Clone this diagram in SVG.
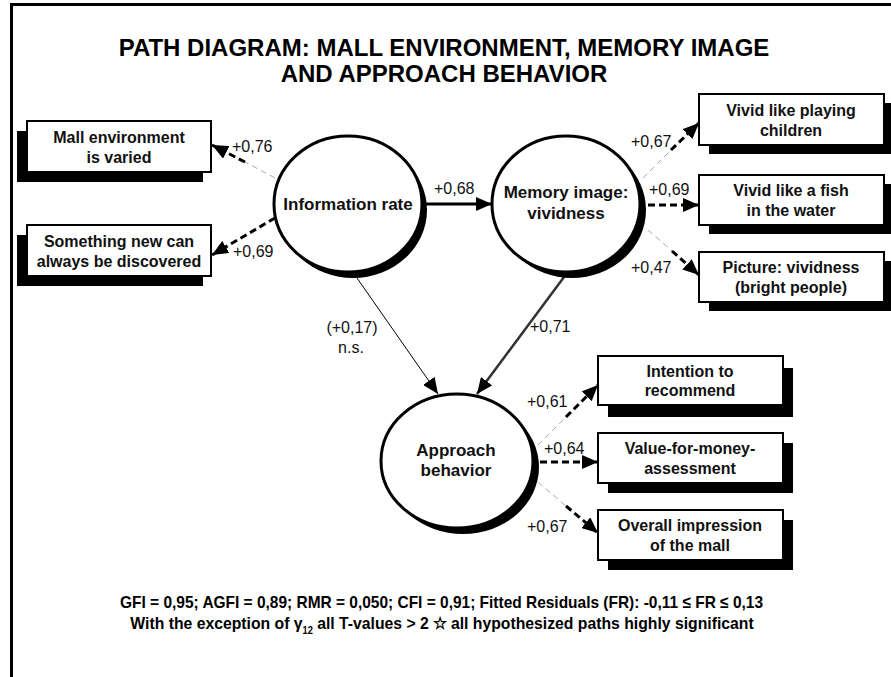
<svg xmlns="http://www.w3.org/2000/svg" width="891" height="677" viewBox="0 0 891 677">
<style>
.title{font-family:"Liberation Sans",Arial,sans-serif;font-weight:bold;font-size:24px;text-anchor:middle;fill:#000}
.node{font-family:"Liberation Sans",Arial,sans-serif;font-weight:bold;font-size:17px;text-anchor:middle;fill:#111}
.box{font-family:"Liberation Sans",Arial,sans-serif;font-weight:bold;font-size:16px;text-anchor:middle;fill:#111}
.lbl{font-family:"Liberation Sans",Arial,sans-serif;font-size:16px;fill:#111}
.foot{font-family:"Liberation Sans",Arial,sans-serif;font-weight:bold;font-size:17px;fill:#000}
.shadow{fill:#000}
.rect{fill:#fff;stroke:#000;stroke-width:2}
.circ{fill:#fff;stroke:#000;stroke-width:3}
.dg{stroke:#aaa;stroke-width:1;stroke-dasharray:6 4;fill:none}
.db{stroke:#000;stroke-width:3;stroke-dasharray:7 4;fill:none}
.solid{stroke:#000;stroke-width:3;fill:none}
</style>
<defs>
<marker id="ah" markerUnits="userSpaceOnUse" markerWidth="18" markerHeight="14" refX="16" refY="7" orient="auto">
<path d="M0,0 L16,7 L0,14 Z" fill="#000"/>
</marker>
</defs>
<rect x="0" y="0" width="891" height="677" fill="#fff"/>
<g id="frame">
<line x1="10" y1="4.5" x2="891" y2="4.5" stroke="#000" stroke-width="3"/>
<line x1="11.5" y1="3" x2="11.5" y2="677" stroke="#000" stroke-width="3"/>
</g>
<g id="title">
<text class="title" x="444" y="56">PATH DIAGRAM: MALL ENVIRONMENT, MEMORY IMAGE</text>
<text class="title" x="444" y="82">AND APPROACH BEHAVIOR</text>
</g>
<g id="connectors">
<line class="solid" x1="425" y1="204" x2="492" y2="204" marker-end="url(#ah)"/>
<line x1="357" y1="278" x2="438" y2="394" stroke="#000" stroke-width="1" marker-end="url(#ah)"/>
<line x1="567" y1="273" x2="477" y2="394" stroke="#333" stroke-width="2.5" marker-end="url(#ah)"/>
<line class="dg" x1="275" y1="178" x2="245" y2="162"/>
<line class="db" x1="245" y1="162" x2="212" y2="145" marker-end="url(#ah)"/>
<line class="db" x1="275" y1="218" x2="212" y2="255" marker-end="url(#ah)"/>
<line class="dg" x1="643" y1="178" x2="671" y2="150"/>
<line class="db" x1="671" y1="150" x2="699" y2="123" marker-end="url(#ah)"/>
<line class="db" x1="648" y1="205" x2="699" y2="205" marker-end="url(#ah)"/>
<line class="dg" x1="648" y1="230" x2="672" y2="251"/>
<line class="db" x1="672" y1="251" x2="699" y2="275" marker-end="url(#ah)"/>
<line class="dg" x1="538" y1="445" x2="566" y2="417"/>
<line class="db" x1="566" y1="417" x2="598" y2="385" marker-end="url(#ah)"/>
<line class="db" x1="540" y1="462" x2="598" y2="462" marker-end="url(#ah)"/>
<line class="dg" x1="538" y1="482" x2="566" y2="506"/>
<line class="db" x1="566" y1="506" x2="598" y2="533" marker-end="url(#ah)"/>
<text class="lbl" x="434" y="194">+0,68</text>
<text class="lbl" x="232" y="152">+0,76</text>
<text class="lbl" x="233" y="257">+0,69</text>
<text class="lbl" x="631" y="147">+0,67</text>
<text class="lbl" x="649" y="195">+0,69</text>
<text class="lbl" x="631" y="273">+0,47</text>
<text class="lbl" x="530" y="332">+0,71</text>
<text class="lbl" x="352" y="333" text-anchor="middle">(+0,17)</text>
<text class="lbl" x="351" y="353" text-anchor="middle">n.s.</text>
<text class="lbl" x="527" y="407">+0,61</text>
<text class="lbl" x="544" y="454">+0,64</text>
<text class="lbl" x="527" y="532">+0,67</text>
</g>
<g id="information-rate">
<ellipse class="shadow" cx="353" cy="210" rx="74" ry="68"/>
<ellipse class="circ" cx="348" cy="204" rx="74" ry="68"/>
<text class="node" x="348" y="210">Information rate</text>
</g>
<g id="memory-image">
<ellipse class="shadow" cx="572" cy="210" rx="74" ry="68"/>
<ellipse class="circ" cx="566" cy="204" rx="74" ry="68"/>
<text class="node" x="566" y="198">Memory image:</text>
<text class="node" x="566" y="219">vividness</text>
</g>
<g id="approach-behavior">
<ellipse class="shadow" cx="463" cy="467" rx="76" ry="67"/>
<ellipse class="circ" cx="457" cy="461" rx="76" ry="67"/>
<text class="node" x="456" y="456">Approach</text>
<text class="node" x="456" y="476">behavior</text>
</g>
<g id="mall-varied">
<rect class="shadow" x="17" y="131" width="186" height="51"/>
<rect class="rect" x="27" y="121" width="184" height="51"/>
<text class="box" x="119" y="143">Mall environment</text>
<text class="box" x="119" y="163">is varied</text>
</g>
<g id="something-new">
<rect class="shadow" x="17" y="235" width="186" height="51"/>
<rect class="rect" x="27" y="225" width="184" height="51"/>
<text class="box" x="119" y="247">Something new can</text>
<text class="box" x="119" y="267">always be discovered</text>
</g>
<g id="playing-children">
<rect class="shadow" x="709" y="103" width="185" height="51"/>
<rect class="rect" x="699" y="94" width="185" height="51"/>
<text class="box" x="791" y="116">Vivid like playing</text>
<text class="box" x="791" y="136">children</text>
</g>
<g id="fish-water">
<rect class="shadow" x="709" y="184" width="185" height="50"/>
<rect class="rect" x="699" y="175" width="185" height="50"/>
<text class="box" x="791" y="196">Vivid like a fish</text>
<text class="box" x="791" y="216">in the water</text>
</g>
<g id="picture-vividness">
<rect class="shadow" x="709" y="261" width="185" height="50"/>
<rect class="rect" x="699" y="252" width="185" height="50"/>
<text class="box" x="791" y="273">Picture: vividness</text>
<text class="box" x="791" y="293">(bright people)</text>
</g>
<g id="intention-recommend">
<rect class="shadow" x="608" y="368" width="185" height="49"/>
<rect class="rect" x="598" y="356" width="185" height="49"/>
<text class="box" x="690" y="377">Intention to</text>
<text class="box" x="690" y="396">recommend</text>
</g>
<g id="value-for-money">
<rect class="shadow" x="608" y="443" width="185" height="50"/>
<rect class="rect" x="598" y="433" width="185" height="50"/>
<text class="box" x="690" y="454">Value-for-money-</text>
<text class="box" x="690" y="474">assessment</text>
</g>
<g id="overall-impression">
<rect class="shadow" x="608" y="520" width="185" height="50"/>
<rect class="rect" x="598" y="510" width="185" height="50"/>
<text class="box" x="690" y="531">Overall impression</text>
<text class="box" x="690" y="551">of the mall</text>
</g>
<g id="footer">
<text class="foot" x="120" y="608" textLength="643" lengthAdjust="spacingAndGlyphs">GFI = 0,95; AGFI = 0,89; RMR = 0,050; CFI = 0,91; Fitted Residuals (FR): -0,11 ≤  FR ≤ 0,13</text>
<g transform="translate(442,629) scale(0.927,1)">
<text class="foot" x="0" y="0" text-anchor="middle">With the exception of γ<tspan font-size="10" dy="5">12</tspan><tspan dy="-5"> all T-values &gt; 2 ☆ all hypothesized paths highly significant</tspan></text>
</g>
</g>
</svg>
